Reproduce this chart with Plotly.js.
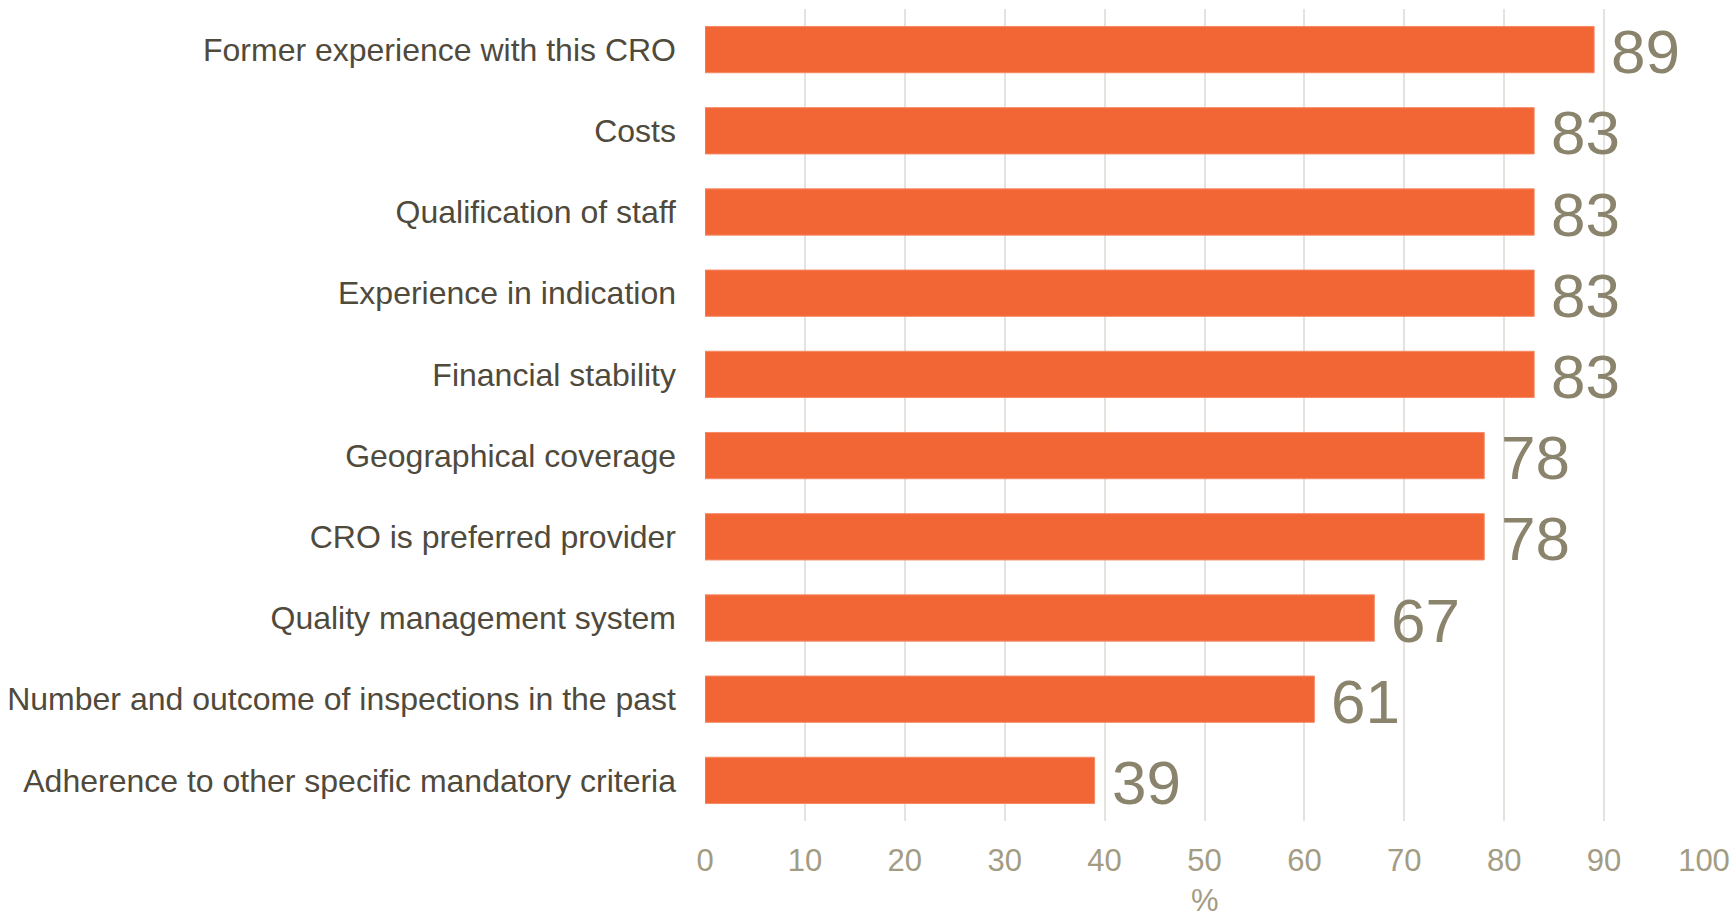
<!DOCTYPE html>
<html>
<head>
<meta charset="utf-8">
<script src="https://cdn.plot.ly/plotly-3.0.1.min.js"></script>
<style>html,body{margin:0;padding:0;background:#fff;}#chart{width:1733px;height:918px;}</style>
</head>
<body>
<div id="chart"></div>
<script>
const categories = [
  "Former experience with this CRO",
  "Costs",
  "Qualification of staff",
  "Experience in indication",
  "Financial stability",
  "Geographical coverage",
  "CRO is preferred provider",
  "Quality management system",
  "Number and outcome of inspections in the past",
  "Adherence to other specific mandatory criteria"
];
const values = [89, 83, 83, 83, 83, 78, 78, 67, 61, 39];
const xTicks = [0, 10, 20, 30, 40, 50, 60, 70, 80, 90, 100];
const xTitle = '%';

const FONT = 'Liberation Sans, Arial, sans-serif';

const trace = {
  type: 'bar',
  orientation: 'h',
  y: categories,
  x: values,
  width: 0.57,
  marker: {color: '#F26535', line: {color: '#F58A66', width: 1}},
  hoverinfo: 'none'
};

const annotations = categories.map((c, i) => ({
  x: values[i],
  y: c,
  xref: 'x',
  yref: 'y',
  text: String(values[i]),
  showarrow: false,
  xanchor: 'left',
  yanchor: 'middle',
  xshift: 15,
  yshift: -2,
  font: {family: FONT, size: 62, color: '#8B846C'}
}));

annotations.push({
  x: 0.5, xref: 'paper',
  y: -0.098, yref: 'paper',
  text: xTitle,
  showarrow: false,
  xanchor: 'center', yanchor: 'middle',
  font: {family: FONT, size: 31, color: '#A39C84'}
});

const layout = {
  width: 1733,
  height: 918,
  margin: {l: 705, r: 29, t: 9, b: 97},
  paper_bgcolor: '#ffffff',
  plot_bgcolor: '#ffffff',
  showlegend: false,
  font: {family: FONT},
  annotations: annotations,
  xaxis: {
    range: [0, 100],
    tickvals: xTicks,
    ticktext: xTicks.map(String),
    showgrid: true,
    gridcolor: '#E4E3DD',
    gridwidth: 2,
    zeroline: false,
    showline: false,
    ticks: '',
    ticklabelstandoff: 18,
    tickfont: {size: 31, color: '#A39C84', family: FONT},
    fixedrange: true
  },
  yaxis: {
    autorange: 'reversed',
    type: 'category',
    showgrid: false,
    zeroline: false,
    showline: false,
    ticks: '',
    ticklabelstandoff: 28,
    tickfont: {size: 32, color: '#4F4A3C', family: FONT},
    fixedrange: true
  }
};

Plotly.newPlot('chart', [trace], layout, {displayModeBar: false, staticPlot: true});
</script>
</body>
</html>
